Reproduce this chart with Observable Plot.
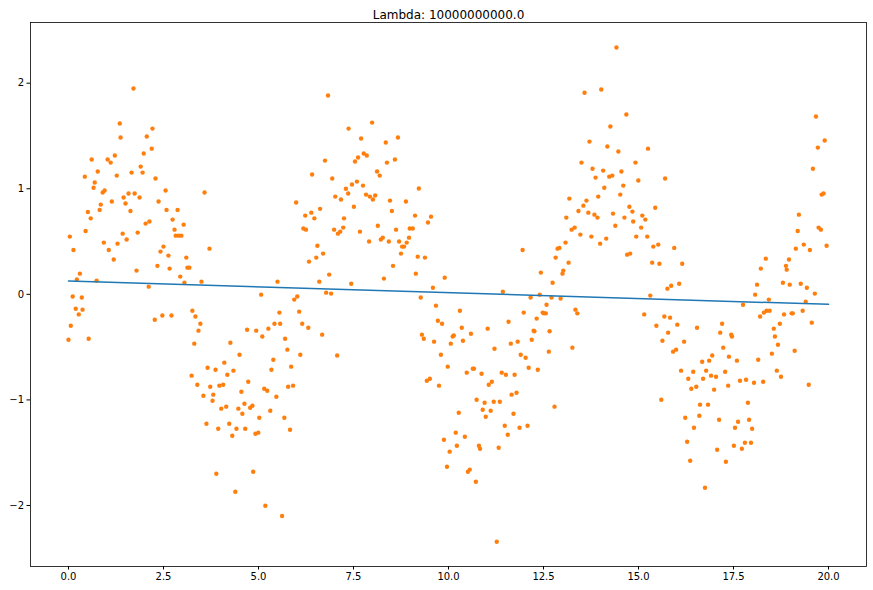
<!DOCTYPE html>
<html>
<head>
<meta charset="utf-8">
<script src="https://cdn.jsdelivr.net/npm/d3@7"></script>
<script src="https://cdn.jsdelivr.net/npm/@observablehq/plot@0.6"></script>
<style>
  html, body { margin: 0; padding: 0; background: #fff; }
</style>
</head>
<body>
<div id="chart"></div>
<script>
const titleText = "Lambda: 10000000000.0";
const xTicks = [0, 2.5, 5, 7.5, 10, 12.5, 15, 17.5, 20];
const yTicks = [-2, -1, 0, 1, 2];

// fitted line (ridge regression, huge lambda)
const fitX = [0, 20];
const fitY = [0.126, -0.095];

// scatter samples
const xs = [
0.0,0.035,0.06,0.11,0.13,0.19,0.22,0.27,0.30,0.35,0.37,0.43,0.45,0.51,0.53,0.585,0.61,0.66,0.69,0.74,
0.77,0.82,0.85,0.90,0.93,0.95,1.03,1.06,1.11,1.14,1.19,1.22,1.27,1.29,1.35,1.37,1.425,1.45,1.50,1.53,
1.58,1.63,1.66,1.71,1.74,1.79,1.82,1.87,1.90,1.95,1.98,2.03,2.06,2.11,2.13,2.19,2.21,2.27,2.29,2.34,
2.37,2.42,2.47,2.50,2.555,2.58,2.63,2.66,2.71,2.74,2.79,2.82,2.87,2.90,2.94,2.97,3.03,3.05,3.10,3.13,
3.18,3.24,3.26,3.31,3.34,3.39,3.42,3.47,3.50,3.55,3.58,3.63,
3.66,3.71,3.73,3.79,3.81,3.87,3.89,3.94,3.97,4.02,4.07,4.10,4.15,4.18,4.23,4.26,4.31,4.34,4.39,4.42,
4.47,4.50,4.55,4.575,4.63,4.65,4.70,4.73,4.78,4.84,4.86,4.92,4.94,4.995,5.02,5.07,5.10,5.15,5.18,5.23,
5.26,5.31,5.34,5.39,5.42,5.47,5.50,5.55,5.57,5.62,5.68,5.70,5.76,5.78,5.83,5.86,5.91,5.94,5.99,6.02,
6.07,6.10,6.15,6.18,6.23,6.25,6.31,6.33,6.39,6.41,6.47,6.52,6.55,6.60,6.62,6.675,6.70,6.75,6.78,6.83,
6.86,6.91,6.94,6.99,7.02,7.07,7.09,7.15,7.17,7.23,7.25,7.30,
7.36,7.37,7.44,7.46,7.51,7.54,7.59,7.62,7.67,7.70,7.75,7.77,7.83,7.85,7.91,7.93,7.99,8.01,8.07,8.12,
8.14,8.19,8.22,8.27,8.30,8.35,8.38,8.43,8.46,8.51,8.54,8.59,8.62,8.67,8.70,8.75,8.78,8.83,8.88,8.90,
8.96,8.98,9.06,9.12,9.14,9.19,9.22,9.27,9.30,9.35,9.38,9.43,9.46,9.51,9.54,9.59,9.62,9.67,9.72,9.75,
9.80,9.83,9.88,9.90,9.96,9.98,10.03,10.06,10.11,10.14,10.19,10.22,10.27,10.30,10.35,10.38,10.43,10.48,10.51,10.56,
10.59,10.64,10.67,10.72,10.74,10.80,10.83,10.87,10.90,
10.95,10.98,11.03,11.06,11.11,11.14,11.19,11.21,11.27,11.32,11.35,11.40,11.43,11.48,11.51,11.56,11.58,11.64,11.66,11.71,
11.74,11.79,11.82,11.87,11.90,11.95,11.98,12.03,12.08,12.11,12.16,12.19,12.24,12.26,12.32,12.35,12.40,12.43,12.48,12.51,
12.56,12.58,12.64,12.66,12.71,12.74,12.79,12.82,12.87,12.92,12.95,13.00,13.02,13.08,13.10,13.16,13.18,13.24,13.26,13.32,
13.34,13.39,13.42,13.47,13.50,13.55,13.58,13.63,13.68,13.71,13.76,13.79,13.84,13.87,13.92,13.94,13.99,14.02,14.07,14.10,
14.15,14.18,14.23,14.26,14.31,14.33,14.39,14.42,14.47,14.52,14.55,
14.60,14.63,14.68,14.70,14.76,14.78,14.84,14.86,14.92,14.94,14.995,15.07,15.10,15.15,15.18,15.23,15.25,15.31,15.36,15.39,
15.44,15.47,15.52,15.55,15.60,15.63,15.68,15.70,15.76,15.78,15.83,15.86,15.91,15.94,15.99,16.02,16.07,16.12,16.15,16.20,
16.23,16.28,16.31,16.36,16.39,16.44,16.46,16.52,16.54,16.60,16.62,16.675,16.70,16.75,16.78,16.83,16.86,16.91,16.94,16.99,
17.04,17.07,17.12,17.15,17.20,17.23,17.28,17.30,17.36,17.38,17.44,17.46,17.51,17.54,17.59,17.62,17.67,17.72,17.75,17.80,
17.83,17.88,17.91,17.96,17.99,18.04,18.07,18.12,18.15,18.20,18.22,
18.28,18.30,18.35,18.37,18.43,18.45,18.51,18.56,18.59,18.64,18.67,18.72,18.75,18.80,18.83,18.88,18.90,18.96,18.98,19.03,
19.06,19.11,19.14,19.19,19.22,19.27,19.32,19.35,19.40,19.43,19.48,19.51,19.56,19.59,19.64,19.67,19.72,19.74,19.80,19.82,
19.87,19.90,19.95
];
const ys = [
-0.43,0.547,-0.297,-0.02,0.42,-0.136,0.14,-0.19,0.196,-0.03,-0.145,1.115,0.60,0.78,-0.42,0.72,1.277,1.01,1.06,0.13,
1.163,0.80,0.85,0.964,0.49,0.983,1.277,0.42,1.248,0.88,0.33,1.315,1.125,0.48,1.618,1.485,0.575,0.917,0.86,0.52,
0.955,0.79,1.153,1.95,0.955,0.225,0.585,0.917,1.21,1.153,1.334,0.67,1.495,0.073,0.69,1.38,1.57,-0.24,1.097,0.27,
0.88,0.405,-0.20,0.452,0.983,0.80,0.367,0.244,-0.20,0.708,0.613,0.556,0.80,0.556,0.168,0.556,0.66,0.11,0.348,0.253,
0.253,-0.77,-0.155,-0.467,-0.21,-0.856,-0.344,-0.278,0.12,-0.96,0.964,-1.226,
-0.695,0.433,-0.875,-1.008,-0.95,-0.714,-1.70,-1.273,-0.865,-1.083,-0.856,-0.647,-1.064,-0.761,-1.226,-0.458,-1.34,-0.723,-1.87,-1.273,
-1.083,-0.572,-0.922,-1.131,-1.036,-1.273,-0.335,-0.828,-1.074,-1.055,-1.68,-1.32,-0.344,-1.31,-1.169,-0.003,-0.40,-0.894,-2.003,-0.913,
-0.325,-1.102,-0.714,-0.619,-0.278,-0.97,0.12,-0.173,-0.278,-2.10,-1.169,-0.42,-0.524,-0.875,-1.283,-0.685,-0.865,-0.05,0.87,-0.02,
-0.164,-0.572,-0.278,0.623,0.746,0.613,-0.316,0.31,0.774,1.135,0.72,0.348,0.46,0.12,0.81,-0.382,0.386,1.267,0.016,1.883,
0.187,0.007,1.097,0.613,0.926,-0.58,0.575,0.594,0.898,0.632,0.72,1.00,
0.955,1.57,0.10,1.04,0.83,1.258,1.068,1.296,0.594,1.476,1.03,1.334,0.945,1.315,0.50,0.926,1.627,0.898,0.936,1.163,
0.65,1.125,0.52,0.537,0.149,1.438,1.248,0.50,0.888,0.79,0.27,1.277,0.613,1.485,0.50,0.386,0.452,0.452,0.88,0.49,
0.537,0.623,0.623,0.746,0.196,0.357,1.002,-0.03,-0.382,-0.42,0.348,-0.818,0.68,-0.80,0.736,0.063,-0.448,-0.107,-0.25,-0.865,
-0.572,-0.278,-1.377,0.158,-1.633,-0.685,-1.49,-0.467,-0.40,-0.39,-1.31,-1.434,-1.121,-0.155,-0.316,-0.439,-1.349,-0.742,-1.68,-1.66,
-0.373,-0.704,-0.704,-1.775,-0.998,-1.434,-1.463,-0.752,-1.093,
-1.027,-1.16,-0.325,-0.856,-1.102,-0.828,-1.017,-0.515,-2.344,-1.453,-1.017,-0.742,0.025,-1.245,-0.761,-1.33,-0.259,-0.467,-0.95,-1.131,
-0.761,-0.932,-0.448,-1.264,-0.572,0.42,-0.173,-0.60,-1.245,-0.695,-0.03,-0.43,-0.344,-0.35,-0.23,-0.714,-0.003,0.206,-0.173,-0.18,
-0.18,-0.098,-0.543,-0.35,-0.03,0.11,-1.064,0.348,0.433,0.44,-0.04,0.196,0.225,0.49,0.727,0.30,0.907,0.613,-0.505,0.632,
-0.145,-0.18,0.79,0.566,1.248,0.84,1.91,0.888,0.774,1.447,0.547,1.19,0.755,1.106,0.727,0.926,0.48,1.94,1.172,1.01,
0.528,1.40,1.115,1.59,1.125,0.765,0.65,2.338,1.353,0.945,1.163,
1.03,0.727,1.703,0.376,0.83,0.386,0.784,0.69,1.248,0.547,1.078,0.632,0.746,-0.19,0.708,0.547,1.38,-0.012,0.30,0.452,
0.82,-0.297,0.471,0.29,-0.998,-0.439,-0.21,1.097,0.054,-0.363,-0.221,0.082,-0.543,0.44,-0.524,-0.287,0.10,-0.723,0.29,-0.448,
-1.169,-1.396,-0.80,-1.576,-0.894,-0.733,-1.264,-0.875,-0.316,-1.15,-1.045,-0.638,-0.80,-1.832,-0.723,-1.045,-0.628,-0.77,-0.58,-0.903,
-0.78,-1.472,-1.188,-0.363,-0.278,-0.505,-0.733,-1.586,-0.865,-0.59,-0.382,-0.40,-1.434,-1.264,-0.628,-1.207,-0.818,-1.463,-0.098,-1.406,
-0.809,-1.027,-1.188,-1.406,-1.273,-0.837,-0.003,0.092,-0.619,-0.21,0.244,
-0.828,-0.173,0.338,-0.155,-0.05,-0.155,-0.562,-0.325,-0.40,-0.723,-0.477,-0.278,-0.78,0.11,-0.19,0.27,0.234,0.33,0.092,-0.18,
-0.18,-0.534,0.433,0.60,0.755,0.10,-0.155,0.471,-0.07,0.063,-0.856,0.42,-0.268,1.19,0.007,1.684,1.39,0.632,0.613,0.945,
0.955,1.457,0.46
];

const points = xs.map((x, i) => ({x, y: ys[i]}));
const fit = fitX.map((x, i) => ({x, y: fitY[i]}));
const minus = d => (d < 0 ? "\u2212" + Math.abs(d) : String(d));

const chart = Plot.plot({
  width: 873,
  height: 590,
  marginLeft: 30,
  marginRight: 7,
  marginTop: 22,
  marginBottom: 24,
  style: {fontFamily: "DejaVu Sans, sans-serif", fontSize: "10px", color: "#000", background: "#fff"},
  x: {domain: [-1, 21], label: null},
  y: {domain: [-2.578, 2.575], label: null},
  marks: [
    Plot.dot(points, {x: "x", y: "y", r: 2.2, fill: "#ff7f0e", stroke: "none"}),
    Plot.line(fit, {x: "x", y: "y", stroke: "#1f77b4", strokeWidth: 1.5}),
    Plot.frame({stroke: "#000", strokeWidth: 0.8}),
    Plot.axisX({ticks: xTicks, tickFormat: d => d.toFixed(1), tickSize: 3.5, tickPadding: 3, label: null, fontSize: 10}),
    Plot.axisY({ticks: yTicks, tickFormat: minus, tickSize: 3.5, tickPadding: 3, label: null, fontSize: 10}),
    Plot.text([titleText], {frameAnchor: "top", dy: -12, text: d => d, fontSize: 12, fill: "#000"})
  ]
});
document.getElementById("chart").appendChild(chart);
</script>
</body>
</html>
